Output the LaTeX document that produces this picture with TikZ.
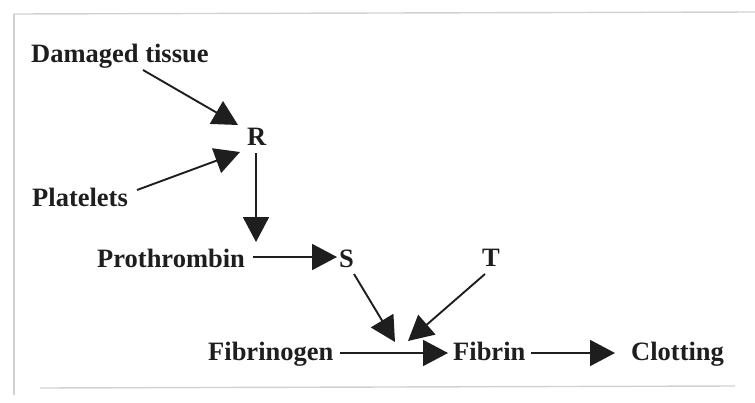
\documentclass[tikz,border=0pt]{standalone}
\usepackage{fontspec}
\setmainfont{Liberation Serif}
\usetikzlibrary{arrows.meta}
\definecolor{ink}{HTML}{1E1E1E}
\begin{document}
\begin{tikzpicture}[x=1pt,y=-1pt,
  lbl/.style={anchor=base west,inner sep=0pt,text=ink,font=\fontsize{26.5}{30}\selectfont\bfseries},
  arr/.style={draw=ink,line width=1.9pt,-{Triangle[length=25pt,width=26pt]}},
  frame/.style={draw=black!18,line width=1.4pt}]
\useasboundingbox (0,0) rectangle (755,402);
% faint scan frame
\draw[frame] (14,14) -- (755,12);
\draw[frame] (14,14) -- (14,395);
\draw[frame] (40,388) -- (735,386);
% nodes
\node[lbl] (dt)   at (31,62)  {Damaged tissue};
\node[lbl] (R)    at (247,145) {R};
\node[lbl] (pl)   at (32,206) {Platelets};
\node[lbl] (pro)  at (97,267) {Prothrombin};
\node[lbl] (S)    at (339,267) {S};
\node[lbl] (T)    at (482,266) {T};
\node[lbl] (fgn)  at (208,360) {Fibrinogen};
\node[lbl] (fib)  at (453,360) {Fibrin};
\node[lbl] (clot) at (631,360) {Clotting};
% connectors
\draw[arr] ([shift={(112,8)}]dt.base west) -- ([shift={(-9,-20)}]R.base west);
\draw[arr] ([shift={(105,-16)}]pl.base west) -- ([shift={(-7,7)}]R.base west);
\draw[arr] ([shift={(9,8)}]R.base west) -- ([shift={(159,-25)}]pro.base west);
\draw[arr] ([shift={(156,-10)}]pro.base west) -- ([shift={(-2,-10)}]S.base west);
\draw[arr] ([shift={(15,7)}]S.base west) -- ([shift={(-58,-18)}]fib.base west);
\draw[arr] ([shift={(3,8)}]T.base west) -- ([shift={(-45,-19)}]fib.base west);
\draw[arr] ([shift={(132,-7)}]fgn.base west) -- ([shift={(-5,-7)}]fib.base west);
\draw[arr] ([shift={(78,-7)}]fib.base west) -- ([shift={(-16,-7)}]clot.base west);
\end{tikzpicture}
\end{document}
